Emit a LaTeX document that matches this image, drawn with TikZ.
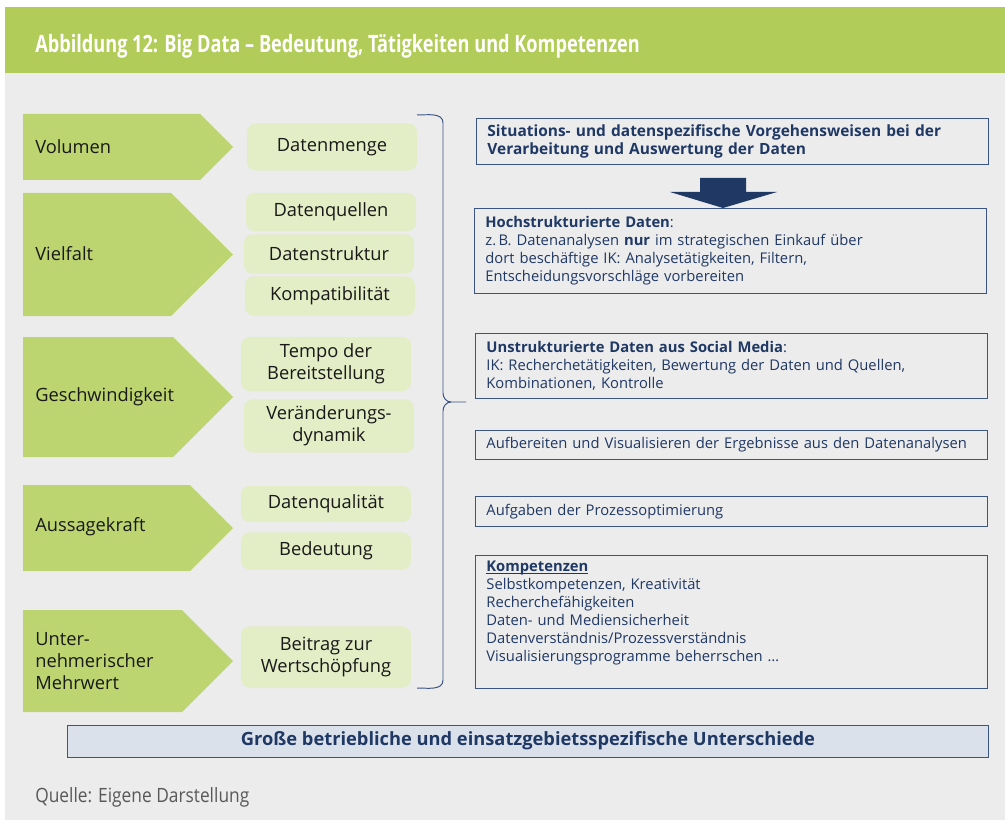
\documentclass[tikz,border=0pt]{standalone}
\usepackage{fontspec}
\setmainfont{Open Sans}
\usepackage{graphicx}
\usetikzlibrary{calc,positioning}
\definecolor{titlegreen}{HTML}{B1CC58}
\definecolor{arrowgreen}{HTML}{BDD571}
\definecolor{palegreen}{HTML}{E3EDC6}
\definecolor{panelgrey}{HTML}{ECECEC}
\definecolor{navy}{HTML}{1F3864}
\definecolor{framenavy}{HTML}{3B5486}
\definecolor{footblue}{HTML}{DAE1EB}
% underline that stays close to the baseline
\newcommand{\knapp}[1]{\setbox0\hbox{#1}\rlap{\rule[-1.8pt]{\wd0}{0.6pt}}\box0}
\tikzset{dimlabel/.style={font=\fontsize{13}{15.6}\selectfont,text=black!90,anchor=west,align=left,inner sep=0pt},
featbox/.style={fill=palegreen,rounded corners=6pt,minimum width=4.25cm,align=center,inner sep=0pt,font=\fontsize{13}{15.6}\selectfont,text=black!90},
taskbox/.style={draw=framenavy,line width=0.6pt,text=navy,align=left,anchor=north west,text width=12.25cm,inner xsep=0.275cm,inner ysep=0pt,font=\fontsize{10.5}{12.8}\selectfont}}

\begin{document}
\begin{tikzpicture}[x=0.025cm, y=-0.025cm]

% Background
\useasboundingbox (0,0) rectangle (1005,820);
\fill[white] (0,0) rectangle (1005,820);
\fill[panelgrey] (5,73) rectangle (1005,820);
\fill[titlegreen] (5,7) rectangle (1005,73);
\node[anchor=west,text=white,inner sep=0pt,font=\fontsize{17}{17}\selectfont\bfseries] (title) at (35,46) {\scalebox{0.76}[1]{Abbildung 12: Big Data -- Bedeutung, Tätigkeiten und Kompetenzen}};

% Dimensions (pentagon arrows)
\foreach \t/\b/\c in {114/180/200, 193/316/171, 337/457/173, 485/571/190, 610/712/182}
  \fill[arrowgreen] (23,\t) -- (\c,\t) -- (233,{(\t+\b)/2}) -- (\c,\b) -- (23,\b) -- cycle;
\node[dimlabel] (vol) at (35,147) {Volumen};
\node[dimlabel] (viel) at (35,254) {Vielfalt};
\node[dimlabel] (gesch) at (35,397) {Geschwindigkeit};
\node[dimlabel] (aussage) at (35,527) {Aussagekraft};
\node[dimlabel] (mehrwert) at (35,661) {Unter-\\nehmerischer\\Mehrwert};

% Characteristics
\node[featbox,minimum height=1.175cm] (menge) at (332,147) {Datenmenge};
\node[featbox,minimum height=0.95cm] (quellen) at (331,212) {Datenquellen};
\node[featbox,minimum height=0.975cm] (struktur) at (329,254) {Datenstruktur};
\node[featbox,minimum height=0.975cm] (kompat) at (330,296) {Kompatibilität};
\node[featbox,minimum height=1.35cm] (tempo) at (326,364) {Tempo der\\Bereitstellung};
\node[featbox,minimum height=1.325cm] (dynamik) at (329,426) {Veränderungs-\\dynamik};
\node[featbox,minimum height=0.9cm] (qualitaet) at (326,504) {Datenqualität};
\node[featbox,minimum height=0.925cm] (bedeutung) at (326,551) {Bedeutung};
\node[featbox,minimum height=1.525cm] (beitrag) at (326,657) {Beitrag zur\\Wertschöpfung};

% Brace
\draw[framenavy,line width=0.7pt] (417,115) to[out=0,in=90] (443,123) -- (443,393) to[out=-90,in=180] (451,402) -- (466,402);
\draw[framenavy,line width=0.7pt] (451,402) to[out=180,in=90] (443,411) -- (443,680) to[out=-90,in=0] (417,688);

% Tasks
\node[taskbox,minimum height=1.15cm,font=\fontsize{11}{13.2}\selectfont\bfseries] (vorgehen) at (476,118) {Situations- und datenspezifische Vorgehensweisen bei der\\Verarbeitung und Auswertung der Daten};
\fill[navy] (700,178) -- (746,178) -- (746,192) -- (777,192) -- (723,208) -- (670,192) -- (700,192) -- cycle;
\node[taskbox,minimum height=2.125cm] (hochstr) at (474,208) {\textbf{Hochstrukturierte Daten}:\\z.\,B. Datenanalysen \textbf{nur} im strategischen Einkauf über\\dort beschäftige IK: Analysetätigkeiten, Filtern,\\Entscheidungsvorschläge vorbereiten};
\node[taskbox,minimum height=1.625cm] (unstr) at (475,333) {\textbf{Unstrukturierte Daten aus Social Media}:\\IK: Recherchetätigkeiten, Bewertung der Daten und Quellen,\\Kombinationen, Kontrolle};
\node[taskbox,minimum height=0.725cm] (aufb) at (475,430) {Aufbereiten und Visualisieren der Ergebnisse aus den Datenanalysen};
\node[taskbox,minimum height=0.75cm] (prozess) at (475,496) {Aufgaben der Prozessoptimierung};
\node[taskbox,minimum height=3.325cm] (kompet) at (475,555) {\knapp{\textbf{Kompetenzen}}\\Selbstkompetenzen, Kreativität\\Recherchefähigkeiten\\Daten- und Mediensicherheit\\Datenverständnis/Prozessverständnis\\Visualisierungsprogramme beherrschen \ldots\rule[-15pt]{0pt}{0pt}};

% Footer
\node[draw=framenavy,line width=0.6pt,fill=footblue,minimum width=23cm,minimum height=0.8cm,inner sep=0pt,text=navy,font=\fontsize{13}{15}\selectfont\bfseries] (diff) at (528,741) {Große betriebliche und einsatzgebietsspezifische Unterschiede};
\node[anchor=west,inner sep=0pt,text=black!65,font=\fontsize{14}{16}\selectfont] (quelle) at (35,797) {\scalebox{0.88}[1]{Quelle: Eigene Darstellung}};

\end{tikzpicture}
\end{document}
